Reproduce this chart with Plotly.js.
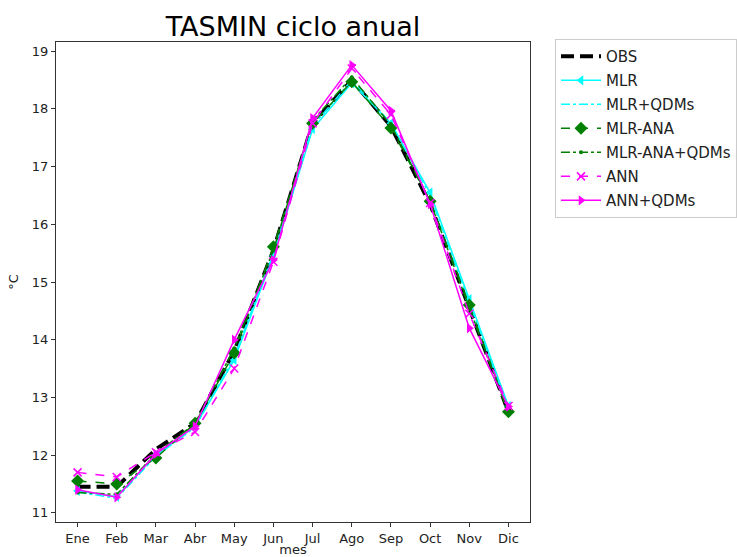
<!DOCTYPE html>
<html>
<head>
<meta charset="utf-8">
<script src="https://cdn.plot.ly/plotly-3.0.1.min.js"></script>
<style>html,body{margin:0;padding:0;background:#fff;}</style>
</head>
<body>
<div id="chart" style="width:737px;height:557px;"></div>
<script>
const months = ["Ene","Feb","Mar","Abr","May","Jun","Jul","Ago","Sep","Oct","Nov","Dic"];
const obs        = [11.45, 11.45, 12.10, 12.55, 13.80, 15.55, 17.75, 18.50, 17.70, 16.35, 14.55, 12.75];
const mlr        = [11.38, 11.28, 12.00, 12.50, 13.65, 15.45, 17.65, 18.45, 17.75, 16.55, 14.70, 12.85];
const mlrQdm     = [11.36, 11.25, 11.98, 12.48, 13.70, 15.50, 17.70, 18.50, 17.75, 16.50, 14.65, 12.80];
const mlrAna     = [11.55, 11.50, 11.95, 12.55, 13.77, 15.61, 17.75, 18.47, 17.67, 16.40, 14.60, 12.75];
const mlrAnaQdm  = [11.35, 11.32, 12.02, 12.55, 13.85, 15.55, 17.80, 18.55, 17.72, 16.40, 14.55, 12.72];
const ann        = [11.70, 11.62, 12.05, 12.40, 13.50, 15.35, 17.75, 18.70, 17.90, 16.37, 14.45, 12.85];
const annQdm     = [11.40, 11.27, 12.02, 12.50, 14.00, 15.38, 17.84, 18.76, 17.97, 16.35, 14.20, 12.84];
const yTicks = [11,12,13,14,15,16,17,18,19];

const traces = [
  {name:"OBS", y:obs, mode:"lines", line:{color:"black", width:4, dash:"13px,6px"}},
  {name:"MLR", y:mlr, mode:"lines+markers", line:{color:"cyan", width:1.5},
   marker:{symbol:"triangle-left", size:9, color:"cyan"}},
  {name:"MLR+QDMs", y:mlrQdm, mode:"lines", line:{color:"cyan", width:1.5, dash:"dashdot"}},
  {name:"MLR-ANA", y:mlrAna, mode:"lines+markers", line:{color:"green", width:1.5, dash:"dash"},
   marker:{symbol:"diamond", size:10, color:"green"}},
  {name:"MLR-ANA+QDMs", y:mlrAnaQdm, mode:"lines+markers", line:{color:"green", width:1.5, dash:"dashdot"},
   marker:{symbol:"circle", size:4, color:"green"}},
  {name:"ANN", y:ann, mode:"lines+markers", line:{color:"magenta", width:1.5, dash:"dash"},
   marker:{symbol:"x-thin", size:8, color:"magenta", line:{color:"magenta", width:1.5}}},
  {name:"ANN+QDMs", y:annQdm, mode:"lines+markers", line:{color:"magenta", width:1.5},
   marker:{symbol:"triangle-right", size:9, color:"magenta"}}
].map((t,i)=>Object.assign({type:"scatter", x:months, legendgroup:"g"+i}, t));

const font = "DejaVu Sans, sans-serif";
const axisCol = "#333";
const layout = {
  width:737, height:557,
  margin:{l:56, r:207, t:42, b:35},
  paper_bgcolor:"white", plot_bgcolor:"white",
  font:{family:font, color:"#222", size:13},
  title:{text:"TASMIN ciclo anual", font:{family:font, size:27, color:"black"},
    xref:"paper", x:0.5, xanchor:"center", yref:"container", y:0.953, yanchor:"middle"},
  xaxis:{type:"category", range:[-0.55, 11.55], showgrid:false, zeroline:false,
    showline:true, mirror:true, linecolor:axisCol, linewidth:1,
    ticks:"outside", ticklen:4, tickcolor:axisCol, tickfont:{size:13, color:"#222"},
    title:{text:"mes", font:{size:13, color:"#222"}, standoff:8}},
  yaxis:{range:[10.84, 19.16], tickvals:yTicks, showgrid:false, zeroline:false,
    showline:true, mirror:true, linecolor:axisCol, linewidth:1,
    ticks:"outside", ticklen:4, tickcolor:axisCol, tickfont:{size:13, color:"#222"},
    title:{text:"°C", font:{size:13, color:"#222"}, standoff:10}},
  legend:{xref:"container", x:555/737, yref:"paper", y:1.006, xanchor:"left", yanchor:"top",
    bordercolor:"#cccccc", borderwidth:1, itemwidth:40,
    font:{size:15, color:"#222"}, tracegroupgap:1.5, bgcolor:"white"},
  showlegend:true
};
Plotly.newPlot("chart", traces, layout, {staticPlot:true});
</script>
</body>
</html>
